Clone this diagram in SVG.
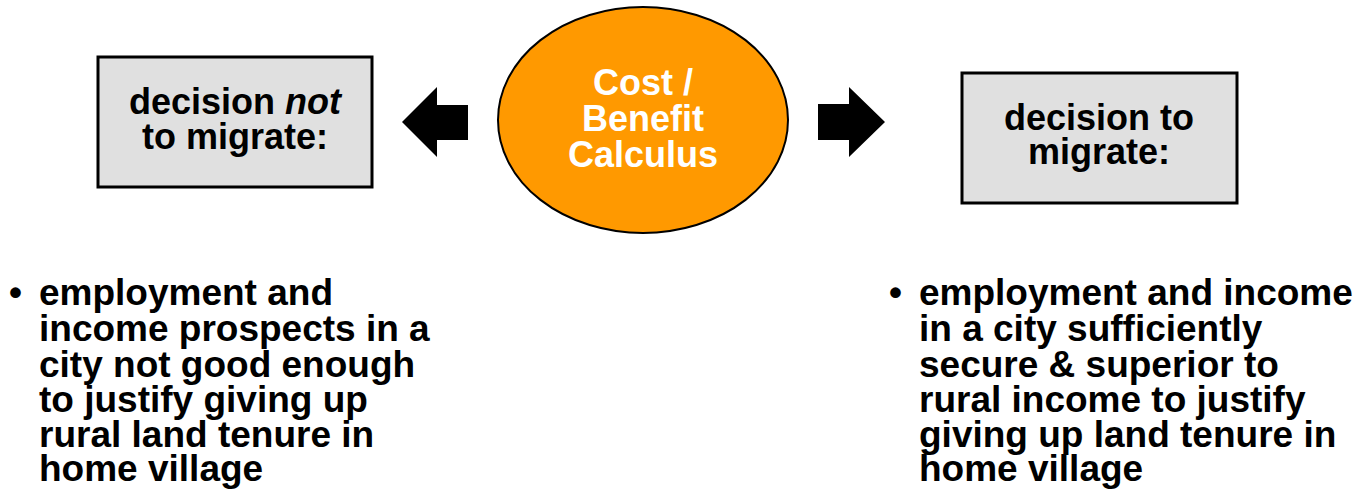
<svg xmlns="http://www.w3.org/2000/svg" width="1357" height="489" viewBox="0 0 1357 489">
<style>
.box{fill:#E0E0E0;stroke:#000;stroke-width:3}
.t{font-family:"Liberation Sans",Arial,sans-serif;font-weight:bold;font-size:36px;fill:#000;text-anchor:middle}
.w{fill:#fff}
.b{font-family:"Liberation Sans",Arial,sans-serif;font-weight:bold;font-size:37px;fill:#000}
.arr{fill:#000}
</style>
<rect width="1357" height="489" fill="#fff"/>
<g id="node-not-migrate">
<rect class="box" x="98" y="57" width="274" height="130"/>
<text class="t" x="235" y="114">decision <tspan font-style="italic">not</tspan></text>
<text class="t" x="235" y="149">to migrate:</text>
</g>
<g id="node-calculus">
<ellipse cx="643" cy="120" rx="145" ry="113" fill="#FF9900" stroke="#000" stroke-width="2"/>
<text class="t w" x="643" y="95">Cost /</text>
<text class="t w" x="643" y="131">Benefit</text>
<text class="t w" x="643" y="167">Calculus</text>
</g>
<g id="node-migrate">
<rect class="box" x="962" y="73" width="275" height="130"/>
<text class="t" x="1099" y="130">decision to</text>
<text class="t" x="1099" y="164">migrate:</text>
</g>
<g id="connectors">
<polygon class="arr" points="402,122 437,87 437,105 468,105 468,140 437,140 437,157"/>
<polygon class="arr" points="885,122 849,87 849,104 818,104 818,140 849,140 849,157"/>
</g>
<g id="text-left">
<text class="b" x="9" y="305">•</text>
<text class="b" x="39" y="305">employment and</text>
<text class="b" x="39" y="341">income prospects in a</text>
<text class="b" x="39" y="377">city not good enough</text>
<text class="b" x="39" y="412">to justify giving up</text>
<text class="b" x="39" y="447">rural land tenure in</text>
<text class="b" x="39" y="481">home village</text>
</g>
<g id="text-right">
<text class="b" x="889" y="305">•</text>
<text class="b" x="919" y="305">employment and income</text>
<text class="b" x="919" y="341">in a city sufficiently</text>
<text class="b" x="919" y="377">secure &amp; superior to</text>
<text class="b" x="919" y="412">rural income to justify</text>
<text class="b" x="919" y="447">giving up land tenure in</text>
<text class="b" x="919" y="481">home village</text>
</g>
</svg>
